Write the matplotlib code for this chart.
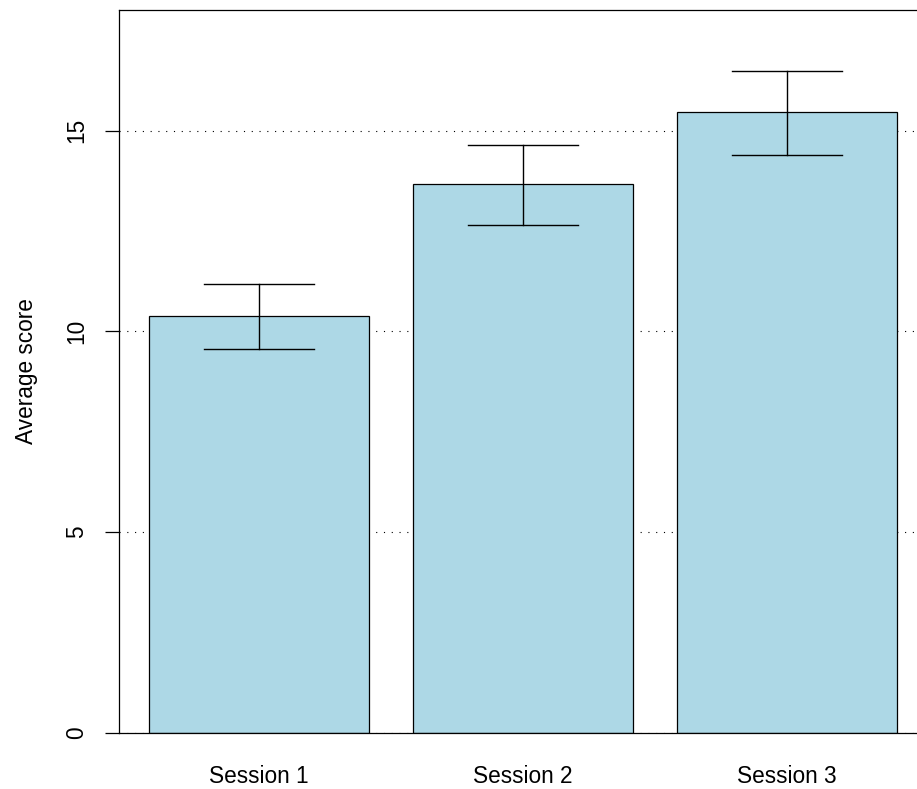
import matplotlib
matplotlib.use("Agg")
import matplotlib.pyplot as plt
import numpy as np

plt.rcParams['font.family'] = ['Liberation Sans', 'DejaVu Sans']

sessions = ["Session 1", "Session 2", "Session 3"]
means = [10.37, 13.66, 15.45]
upper = [11.19, 14.65, 16.49]
lower = [9.55, 12.64, 14.40]

W, H = 917, 789
fig = plt.figure(figsize=(W / 100, H / 100), dpi=100)
# plot region runs a little past the right edge of the canvas
ax = fig.add_axes([119 / W, (H - 733) / H, 808 / W, 723 / H])

# barplot layout: width 1, space 0.2
centers = 0.7 + 1.2 * np.arange(len(sessions))

for y in [0, 5, 10, 15]:
    ax.axhline(y, color="black", lw=0.8, linestyle=(0, (1, 6)), zorder=0)

ax.bar(centers, means, width=1.0, color="lightblue", edgecolor="black",
       linewidth=0.9, zorder=2)

for c, lo, hi in zip(centers, lower, upper):
    ax.plot([c, c], [lo, hi], color="black", lw=1.0, zorder=3)
    ax.plot([c - 0.25, c + 0.25], [hi, hi], color="black", lw=1.0, zorder=3)
    ax.plot([c - 0.25, c + 0.25], [lo, lo], color="black", lw=1.0, zorder=3)

ax.set_xlim(0.064, 3.736)
ax.set_ylim(0, 18)

for s in ax.spines.values():
    s.set_linewidth(0.9)

fs = 16.3
ax.set_yticks([0, 5, 10, 15])
ax.set_yticklabels(["0", "5", "10", "15"], rotation=90, va="center", fontsize=fs)
ax.tick_params(axis="y", length=10, width=0.9, pad=12)
ax.set_xticks(centers)
ax.set_xticklabels(sessions, fontsize=fs)
ax.tick_params(axis="x", length=0, pad=23)
ax.set_ylabel("Average score", fontsize=fs, labelpad=20)

fig.savefig("out.png", dpi=100)
